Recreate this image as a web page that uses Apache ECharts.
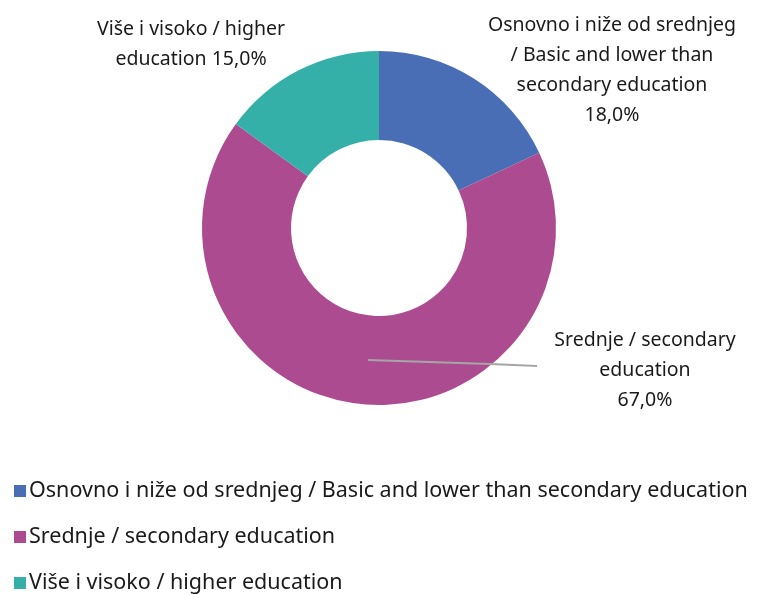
<!DOCTYPE html>
<html>
<head>
<meta charset="utf-8">
<script src="https://cdn.jsdelivr.net/npm/echarts@6/dist/echarts.min.js"></script>
<style>
html,body{margin:0;padding:0;background:#fff;}
#main{width:771px;height:595px;}
</style>
</head>
<body>
<div id="main"></div>
<script>
// podaci
var categories=['Osnovno i niže od srednjeg / Basic and lower than secondary education','Srednje / secondary education','Više i visoko / higher education'];
var values=[18.0,67.0,15.0];
var labelTexts=['Osnovno i niže od srednjeg\n/ Basic and lower than\nsecondary education','Srednje / secondary\neducation','Više i visoko / higher\neducation'];
var colors=['#4a6eb5','#ad4b91','#35b0a9'];

var font='"Noto Sans", sans-serif';

var data=[];
for(var i=0;i<categories.length;i++){
    data.push({
        name:categories[i],
        value:values[i],
        itemStyle:{color:colors[i]}
    });
}

// label pozicije
var labelPos=[
    {x:612,y:70},
    {x:645,y:370},
    {x:191,y:44}
];

var myChart=echarts.init(document.getElementById('main'));
var option={
    animation:false,
    legend:{
        orient:'vertical',
        left:14,
        top:480,
        padding:0,
        itemWidth:12,
        itemHeight:12,
        itemGap:24,
        icon:'rect',
        textStyle:{fontFamily:font,fontSize:21.5,lineHeight:22,color:'#1a1a1a',padding:[0,0,0,-2]},
        data:categories
    },
    // linija do labele
    graphic:[{
        type:'polyline',
        z:100,
        shape:{points:[[368,360],[490,364],[537,366]]},
        style:{stroke:'#a6a6a6',lineWidth:2,fill:null}
    }],
    series:[{
        type:'pie',
        center:[379,228],
        radius:[88,177],
        startAngle:90,
        clockwise:true,
        data:data,
        label:{
            show:true,
            fontFamily:font,
            fontSize:19.5,
            lineHeight:30,
            overflow:'none',
            color:'#1a1a1a',
            align:'center',
            formatter:function(p){
                var sep=p.dataIndex===2?' ':'\n';
                return labelTexts[p.dataIndex]+sep+p.value.toFixed(1).replace('.',',')+'%';
            }
        },
        labelLine:{show:false},
        labelLayout:function(params){
            var pos=labelPos[params.dataIndex];
            return {x:pos.x,y:pos.y,align:'center',verticalAlign:'middle'};
        }
    }]
};
myChart.setOption(option);
</script>
</body>
</html>
